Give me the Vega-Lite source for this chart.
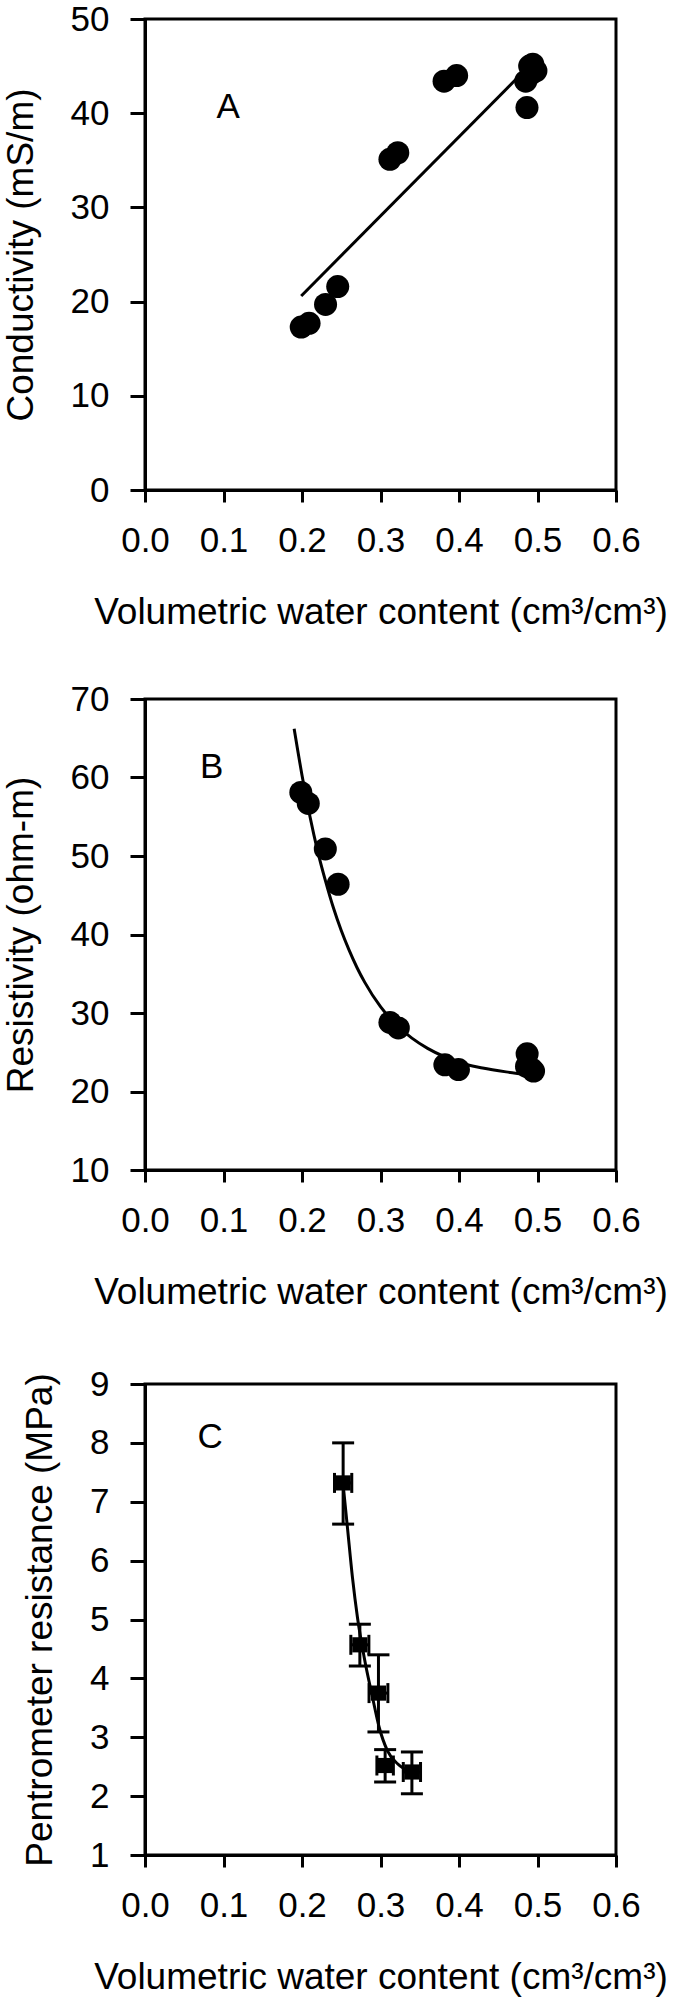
{
  "$schema": "https://vega.github.io/schema/vega-lite/v6.json",
  "padding": {"left": 0, "top": 0, "right": 0, "bottom": 0},
  "background": "white",
  "config": {
    "font": "Liberation Sans",
    "view": {"stroke": "black", "strokeWidth": 3},
    "axis": {
      "grid": false,
      "domainColor": "black",
      "domainWidth": 3,
      "tickColor": "black",
      "tickWidth": 3,
      "labelFont": "Liberation Sans",
      "labelFontSize": 35,
      "labelColor": "black",
      "labelFlush": false,
      "labelOverlap": false,
      "titleFont": "Liberation Sans",
      "titleFontSize": 37,
      "titleFontWeight": "normal",
      "titleColor": "black"
    },
    "axisX": {"tickSize": 12, "labelPadding": 21, "titlePadding": 36},
    "axisY": {"tickSize": 15, "labelPadding": 21, "titlePadding": 30}
  },
  "datasets": {
    "a_pts": [
      {"x": 0.199, "y": 17.3}, {"x": 0.209, "y": 17.7}, {"x": 0.230, "y": 19.7}, {"x": 0.2455, "y": 21.6},
      {"x": 0.312, "y": 35.1}, {"x": 0.322, "y": 35.8}, {"x": 0.381, "y": 43.4}, {"x": 0.397, "y": 44.0},
      {"x": 0.4866, "y": 40.6}, {"x": 0.485, "y": 43.4}, {"x": 0.492, "y": 44.2}, {"x": 0.494, "y": 45.2},
      {"x": 0.498, "y": 44.5}, {"x": 0.490, "y": 45.0}
    ],
    "a_line": [{"x": 0.199, "y": 20.6}, {"x": 0.488, "y": 44.9}],
    "a_lab": [{"x": 0.106, "y": 39.5, "label": "A"}],
    "b_pts": [
      {"x": 0.1985, "y": 58.1}, {"x": 0.208, "y": 56.7}, {"x": 0.2297, "y": 50.9}, {"x": 0.246, "y": 46.4},
      {"x": 0.312, "y": 28.8}, {"x": 0.3227, "y": 28.1}, {"x": 0.382, "y": 23.4}, {"x": 0.3993, "y": 22.8},
      {"x": 0.4868, "y": 24.8}, {"x": 0.486, "y": 23.2}, {"x": 0.495, "y": 22.6}, {"x": 0.492, "y": 22.9}
    ],
    "b_curve": [
      {"x": 0.19, "y": 66.2}, {"x": 0.20, "y": 60.3}, {"x": 0.21, "y": 55.1}, {"x": 0.22, "y": 50.6},
      {"x": 0.23, "y": 46.8}, {"x": 0.24, "y": 43.4}, {"x": 0.25, "y": 40.5}, {"x": 0.26, "y": 38.0},
      {"x": 0.27, "y": 35.8}, {"x": 0.28, "y": 33.9}, {"x": 0.30, "y": 30.8}, {"x": 0.32, "y": 28.5},
      {"x": 0.34, "y": 26.8}, {"x": 0.36, "y": 25.5}, {"x": 0.38, "y": 24.5}, {"x": 0.40, "y": 23.7},
      {"x": 0.43, "y": 23.0}, {"x": 0.46, "y": 22.5}, {"x": 0.49, "y": 22.1}
    ],
    "b_lab": [{"x": 0.0848, "y": 60.0, "label": "B"}],
    "c_pts": [
      {"x": 0.2524, "y": 7.32, "ylo": 6.62, "yhi": 8.0, "xlo": 0.2414, "xhi": 0.2634},
      {"x": 0.2737, "y": 4.57, "ylo": 4.21, "yhi": 4.92, "xlo": 0.2622, "xhi": 0.2852},
      {"x": 0.2974, "y": 3.75, "ylo": 3.09, "yhi": 4.40, "xlo": 0.2854, "xhi": 0.3094},
      {"x": 0.3059, "y": 2.52, "ylo": 2.24, "yhi": 2.79, "xlo": 0.2954, "xhi": 0.3164},
      {"x": 0.3400, "y": 2.41, "ylo": 2.04, "yhi": 2.75, "xlo": 0.3290, "xhi": 0.3510}
    ],
    "c_curve": [
      {"x": 0.2524, "y": 7.29}, {"x": 0.2579, "y": 6.56}, {"x": 0.2643, "y": 5.71}, {"x": 0.2707, "y": 5.03},
      {"x": 0.2792, "y": 4.36}, {"x": 0.2898, "y": 3.68}, {"x": 0.2983, "y": 3.17}, {"x": 0.3089, "y": 2.77},
      {"x": 0.3217, "y": 2.55}, {"x": 0.3365, "y": 2.42}
    ],
    "c_lab": [{"x": 0.0829, "y": 7.92, "label": "C"}]
  },
  "bounds": "flush",
  "spacing": 209,
  "vconcat": [
    {
      "width": 471,
      "height": 471,
      "encoding": {
        "x": {"field": "x", "type": "quantitative", "title": "Volumetric water content (cm³/cm³)",
              "scale": {"domain": [0, 0.6], "nice": false, "zero": false},
              "axis": {"values": [0, 0.1, 0.2, 0.3, 0.4, 0.5, 0.6], "format": ".1f"}},
        "y": {"field": "y", "type": "quantitative", "title": "Conductivity (mS/m)",
              "scale": {"domain": [0, 50], "nice": false, "zero": false},
              "axis": {"values": [0, 10, 20, 30, 40, 50]}}
      },
      "layer": [
        {"data": {"name": "a_line"}, "mark": {"type": "line", "color": "black", "strokeWidth": 3}},
        {"data": {"name": "a_pts"}, "mark": {"type": "point", "shape": "circle", "filled": true, "color": "black", "opacity": 1, "size": 530}},
        {"data": {"name": "a_lab"}, "mark": {"type": "text", "fontSize": 35, "font": "Liberation Sans", "color": "black", "align": "center", "baseline": "alphabetic"},
         "encoding": {"text": {"field": "label"}}}
      ]
    },
    {
      "bounds": "flush",
      "spacing": 214,
      "vconcat": [
        {
          "width": 471,
          "height": 471,
          "encoding": {
            "x": {"field": "x", "type": "quantitative", "title": "Volumetric water content (cm³/cm³)",
                  "scale": {"domain": [0, 0.6], "nice": false, "zero": false},
                  "axis": {"values": [0, 0.1, 0.2, 0.3, 0.4, 0.5, 0.6], "format": ".1f"}},
            "y": {"field": "y", "type": "quantitative", "title": "Resistivity (ohm-m)",
                  "scale": {"domain": [10, 70], "nice": false, "zero": false},
                  "axis": {"values": [10, 20, 30, 40, 50, 60, 70]}}
          },
          "layer": [
            {"data": {"name": "b_curve"}, "mark": {"type": "line", "color": "black", "strokeWidth": 3, "interpolate": "monotone"}},
            {"data": {"name": "b_pts"}, "mark": {"type": "point", "shape": "circle", "filled": true, "color": "black", "opacity": 1, "size": 530}},
            {"data": {"name": "b_lab"}, "mark": {"type": "text", "fontSize": 35, "font": "Liberation Sans", "color": "black", "align": "center", "baseline": "alphabetic"},
             "encoding": {"text": {"field": "label"}}}
          ]
        },
        {
          "width": 471,
          "height": 471,
          "encoding": {
            "x": {"field": "x", "type": "quantitative", "title": "Volumetric water content (cm³/cm³)",
                  "scale": {"domain": [0, 0.6], "nice": false, "zero": false},
                  "axis": {"values": [0, 0.1, 0.2, 0.3, 0.4, 0.5, 0.6], "format": ".1f"}},
            "y": {"field": "y", "type": "quantitative", "title": "Pentrometer resistance (MPa)",
                  "scale": {"domain": [1, 9], "nice": false, "zero": false},
                  "axis": {"values": [1, 2, 3, 4, 5, 6, 7, 8, 9]}}
          },
          "layer": [
            {"data": {"name": "c_pts"}, "mark": {"type": "rule", "color": "black", "strokeWidth": 3},
             "encoding": {"y": {"field": "ylo", "type": "quantitative", "title": "Pentrometer resistance (MPa)"}, "y2": {"field": "yhi"}}},
            {"data": {"name": "c_pts"}, "mark": {"type": "tick", "orient": "horizontal", "color": "black", "opacity": 1, "size": 22, "thickness": 3},
             "encoding": {"y": {"field": "ylo", "type": "quantitative", "title": "Pentrometer resistance (MPa)"}}},
            {"data": {"name": "c_pts"}, "mark": {"type": "tick", "orient": "horizontal", "color": "black", "opacity": 1, "size": 22, "thickness": 3},
             "encoding": {"y": {"field": "yhi", "type": "quantitative", "title": "Pentrometer resistance (MPa)"}}},
            {"data": {"name": "c_pts"}, "mark": {"type": "rule", "color": "black", "strokeWidth": 3},
             "encoding": {"x": {"field": "xlo", "type": "quantitative", "title": "Volumetric water content (cm³/cm³)"}, "x2": {"field": "xhi"}}},
            {"data": {"name": "c_pts"}, "mark": {"type": "tick", "orient": "vertical", "color": "black", "opacity": 1, "size": 20, "thickness": 3},
             "encoding": {"x": {"field": "xlo", "type": "quantitative", "title": "Volumetric water content (cm³/cm³)"}}},
            {"data": {"name": "c_pts"}, "mark": {"type": "tick", "orient": "vertical", "color": "black", "opacity": 1, "size": 20, "thickness": 3},
             "encoding": {"x": {"field": "xhi", "type": "quantitative", "title": "Volumetric water content (cm³/cm³)"}}},
            {"data": {"name": "c_curve"}, "mark": {"type": "line", "color": "black", "strokeWidth": 3, "interpolate": "monotone"}},
            {"data": {"name": "c_pts"}, "mark": {"type": "point", "shape": "square", "filled": true, "color": "black", "opacity": 1, "size": 230}},
            {"data": {"name": "c_lab"}, "mark": {"type": "text", "fontSize": 35, "font": "Liberation Sans", "color": "black", "align": "center", "baseline": "alphabetic"},
             "encoding": {"text": {"field": "label"}}}
          ]
        }
      ]
    }
  ]
}
